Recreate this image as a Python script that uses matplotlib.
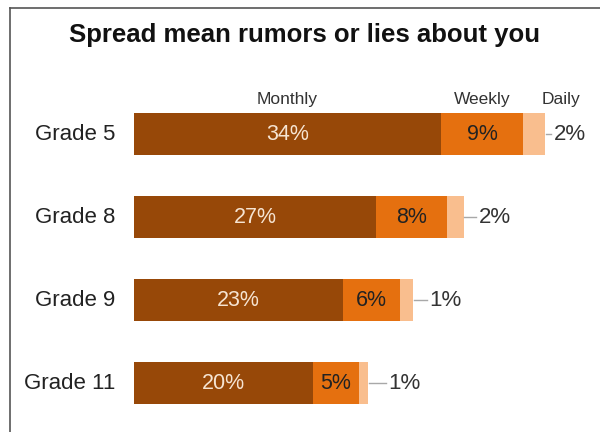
import matplotlib
matplotlib.use("Agg")
from matplotlib import pyplot as plt
from matplotlib.lines import Line2D

plt.rcParams['font.family'] = ['Liberation Sans', 'DejaVu Sans']

grades = ["Grade 5", "Grade 8", "Grade 9", "Grade 11"]
monthly = [34, 26.8, 23.1, 19.8]
weekly = [9.1, 7.9, 6.4, 5.1]
daily = [2.4, 1.8, 1.4, 1.0]
monthly_labels = ["34%", "27%", "23%", "20%"]
weekly_labels = ["9%", "8%", "6%", "5%"]
daily_labels = ["2%", "2%", "1%", "1%"]

c_month = '#974808'
c_week = '#E5700F'
c_day = '#F9BE8E'

fig = plt.figure(figsize=(6, 4.32), dpi=100)
# axes: left edge at bar start (134px), top at 51px, bottom at 432px
ax = fig.add_axes([134 / 600, 0, 461 / 600, 381 / 432])
ax.set_xlim(0, 461 / 9.03)
ax.set_ylim(3.59, -1.0)
ax.axis('off')

y = list(range(len(grades)))
h = 0.5
ax.barh(y, monthly, height=h, color=c_month)
ax.barh(y, weekly, left=monthly, height=h, color=c_week)
left2 = [m + w for m, w in zip(monthly, weekly)]
ax.barh(y, daily, left=left2, height=h, color=c_day)

# gap between bar end and daily label, in % units
gaps = [1.0, 1.65, 1.8, 2.3]
for i in y:
    ax.text(monthly[i] / 2, i, monthly_labels[i], ha='center', va='center',
            fontsize=15.5, color='#F6E4D2')
    ax.text(monthly[i] + weekly[i] / 2, i, weekly_labels[i], ha='center',
            va='center', fontsize=15.5, color='#222222')
    end = left2[i] + daily[i]
    lx = end + gaps[i]
    ax.plot([end + 0.1, lx - 0.3], [i, i], color='#A8A8A8', lw=1)
    ax.text(lx, i, daily_labels[i], ha='left', va='center', fontsize=16,
            color='#333333')
    ax.text(-2.1, i, grades[i], ha='right', va='center', fontsize=16,
            color='#222222')

# column headers
ax.text(monthly[0] / 2, -0.42, "Monthly", ha='center', va='center',
        fontsize=12.5, color='#333333')
ax.text(monthly[0] + weekly[0] / 2, -0.42, "Weekly", ha='center',
        va='center', fontsize=12.5, color='#333333')
ax.text(left2[0] + daily[0] + 1.8, -0.42, "Daily", ha='center',
        va='center', fontsize=12.5, color='#333333')

fig.text(0.508, 1 - 35 / 432, "Spread mean rumors or lies about you",
         ha='center', va='center', fontsize=18.5, fontweight='bold',
         color='#111111')

# frame lines (top and left)
fig.add_artist(Line2D([10 / 600, 1], [1 - 7.5 / 432, 1 - 7.5 / 432],
                      color='#555555', lw=1.2))
fig.add_artist(Line2D([10 / 600, 10 / 600], [0, 1 - 7.5 / 432],
                      color='#555555', lw=1.2))

plt.savefig('out.png', dpi=100)
